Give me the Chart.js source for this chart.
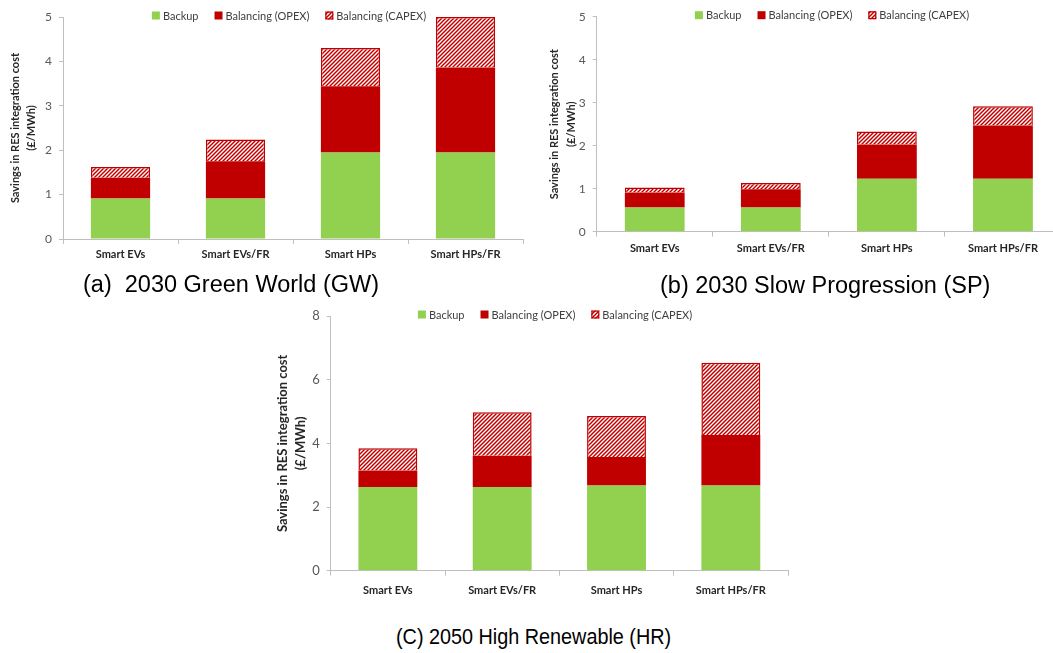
<!DOCTYPE html>
<html>
<head>
<meta charset="utf-8">
<script src="https://cdn.jsdelivr.net/npm/chart.js@4.4.1/dist/chart.umd.min.js"></script>
<style>
  html, body { margin: 0; padding: 0; width: 1053px; height: 653px; overflow: hidden; background: #fff; }
  canvas { position: absolute; }
  .cap { position: absolute; font-family: "Liberation Sans", Arial, sans-serif; color: #000; white-space: pre; line-height: 1; transform-origin: left center; }
</style>
</head>
<body>
<canvas id="chartGW" width="530" height="272" style="left:0;top:0"></canvas>
<canvas id="chartSP" width="535" height="272" style="left:530px;top:0"></canvas>
<canvas id="chartHR" width="530" height="320" style="left:270px;top:300px"></canvas>
<div class="cap" style="left:83px;top:273px;font-size:23.5px">(a)  2030 Green World (GW)</div>
<div class="cap" style="left:660px;top:274px;font-size:23.5px">(b) 2030 Slow Progression (SP)</div>
<div class="cap" style="left:396px;top:626px;font-size:22px;transform:scaleX(0.9)">(C) 2050 High Renewable (HR)</div>
<script>
const categories = ["Smart EVs", "Smart EVs/FR", "Smart HPs", "Smart HPs/FR"];
const seriesNames = ["Backup", "Balancing (OPEX)", "Balancing (CAPEX)"];

// (a) 2030 Green World
const gwBackup = [0.91, 0.91, 1.95, 1.95];
const gwOpex = [0.47, 0.84, 1.49, 1.91];
const gwCapex = [0.24, 0.49, 0.86, 1.14];
const gwTicks = [0, 1, 2, 3, 4, 5];

// (b) 2030 Slow Progression
const spBackup = [0.56, 0.56, 1.23, 1.23];
const spOpex = [0.35, 0.43, 0.80, 1.24];
const spCapex = [0.12, 0.14, 0.30, 0.45];
const spTicks = [0, 1, 2, 3, 4, 5];

// (c) 2050 High Renewable
const hrBackup = [2.63, 2.63, 2.68, 2.68];
const hrOpex = [0.52, 0.98, 0.89, 1.58];
const hrCapex = [0.70, 1.37, 1.29, 2.27];
const hrTicks = [0, 2, 4, 6, 8];

const GREEN = "#92D050";
const RED = "#C00000";
const AXIS = "#BFBFBF";

function makeHatch() {
  const c = document.createElement("canvas");
  c.width = 4; c.height = 4;
  const g = c.getContext("2d");
  g.fillStyle = "#fff";
  g.fillRect(0, 0, 4, 4);
  g.strokeStyle = RED;
  g.lineWidth = 1.5;
  g.beginPath();
  g.moveTo(-1, 1); g.lineTo(1, -1);
  g.moveTo(0, 4); g.lineTo(4, 0);
  g.moveTo(3, 5); g.lineTo(5, 3);
  g.stroke();
  return g.createPattern(c, "repeat");
}
const hatch = makeHatch();

// legend drawn over the top of the plot, like the Excel original
const topLegend = {
  id: "topLegend",
  afterDraw(chart, args, opts) {
    const ctx = chart.ctx;
    const box = 8, gap = 3, spacing = 16;
    ctx.save();
    ctx.font = "11px Lato";
    const items = chart.data.datasets.map(ds => ({
      label: ds.label,
      fill: ds.backgroundColor,
      stroke: ds.borderWidth ? ds.borderColor : null,
      w: box + gap + ctx.measureText(ds.label).width
    }));
    const total = items.reduce((s, it) => s + it.w, 0) + spacing * (items.length - 1);
    let x = opts.centerX - total / 2;
    const y = chart.chartArea.top + opts.dy;
    items.forEach(it => {
      ctx.fillStyle = it.fill;
      ctx.fillRect(x, y - box / 2, box, box);
      if (it.stroke) {
        ctx.strokeStyle = it.stroke;
        ctx.lineWidth = 1.2;
        ctx.strokeRect(x + 0.6, y - box / 2 + 0.6, box - 1.2, box - 1.2);
      }
      ctx.fillStyle = "#404040";
      ctx.textBaseline = "middle";
      ctx.textAlign = "left";
      ctx.fillText(it.label, x + box + gap, y + 0.5);
      x += it.w + spacing;
    });
    ctx.restore();
  }
};

function buildChart(id, backup, opex, capex, ticks, o) {
  return new Chart(document.getElementById(id), {
    type: "bar",
    data: {
      labels: categories,
      datasets: [
        { label: seriesNames[0], data: backup, backgroundColor: GREEN, borderWidth: 0 },
        { label: seriesNames[1], data: opex, backgroundColor: RED, borderWidth: 0 },
        { label: seriesNames[2], data: capex, backgroundColor: hatch, borderColor: RED, borderWidth: 1.5 }
      ]
    },
    options: {
      responsive: false,
      animation: false,
      layout: { padding: { left: 0, top: o.top, right: o.right, bottom: 0 } },
      datasets: { bar: { categoryPercentage: 1, barPercentage: 0.515 } },
      plugins: {
        legend: { display: false },
        tooltip: { enabled: false },
        topLegend: { centerX: o.legendX, dy: -1.5 }
      },
      scales: {
        x: {
          stacked: true,
          grid: { offset: true, drawOnChartArea: false, tickLength: 5, color: AXIS },
          border: { color: AXIS },
          ticks: { padding: o.xPad, maxRotation: 0, autoSkip: false, color: "#262626",
                   font: { family: "Lato", size: 11, weight: "bold" } },
          afterFit: s => { s.height = o.xHeight; }
        },
        y: {
          stacked: true,
          min: ticks[0],
          max: ticks[ticks.length - 1],
          afterBuildTicks: s => { s.ticks = ticks.map(v => ({ value: v })); },
          grid: { drawOnChartArea: false, tickLength: 4, color: AXIS },
          border: { color: AXIS },
          ticks: { padding: 7, color: "#595959", font: { family: "Lato", size: o.yFont } },
          title: {
            display: true,
            text: ["Savings in RES integration cost", "(£/MWh)"],
            color: "#262626",
            font: { family: "Lato", size: o.titleSize, weight: "bold", lineHeight: o.titleLH },
            padding: { top: o.titlePad, bottom: 0 }
          },
          afterFit: s => { s.width = o.yWidth; }
        }
      }
    },
    plugins: [topLegend]
  });
}

buildChart("chartGW", gwBackup, gwOpex, gwCapex, gwTicks, {
  top: 17, right: 7, xHeight: 33, xPad: 4, yWidth: 63, yFont: 12,
  titleSize: 11, titleLH: 16 / 11, titlePad: 7.2, legendX: 289
});
buildChart("chartSP", spBackup, spOpex, spCapex, spTicks, {
  top: 16.7, right: 4, xHeight: 40.3, xPad: 5, yWidth: 66.7, yFont: 12,
  titleSize: 11, titleLH: 1.52, titlePad: 16, legendX: 302
});
buildChart("chartHR", hrBackup, hrOpex, hrCapex, hrTicks, {
  top: 16, right: 12, xHeight: 49.3, xPad: 8, yWidth: 60.7, yFont: 13,
  titleSize: 13, titleLH: 18 / 13, titlePad: 3.7, legendX: 285
});
</script>
</body>
</html>
